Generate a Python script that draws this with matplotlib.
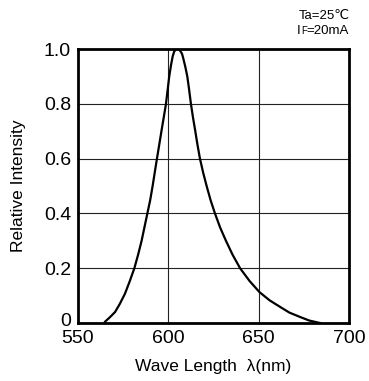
import numpy as np
import matplotlib.pyplot as plt
import matplotlib.transforms as mtransforms

plt.rcParams['font.family'] = ['Liberation Sans', 'DejaVu Sans']

# spectrum
wavelength = [565, 567.5, 570.5, 573, 576, 578.5, 581.2, 583.3, 585.2, 586.8, 588.4, 590, 591.3,
              592.5, 593.7, 595, 596.3, 597.5, 598.7, 599.6, 600.5, 601.5, 602.4, 603.2, 604,
              604.7, 605.4, 606.1, 606.9, 607.6, 608.3, 609.4, 610.5, 611.5, 612.5, 613.6, 614.8,
              616.1, 617.5, 619.3, 621.2, 623.4, 625.8, 628.7, 631.9, 635.5, 639.7, 645, 650.4,
              656, 661.8, 667, 672.9, 678, 684]
intensity = [0.005, 0.02, 0.04, 0.068, 0.107, 0.15, 0.2, 0.25, 0.30, 0.35, 0.40, 0.45, 0.50,
             0.55, 0.60, 0.652, 0.705, 0.752, 0.80, 0.85, 0.90, 0.942, 0.973, 0.99, 0.998,
             1.0, 1.0, 0.998, 0.99, 0.982, 0.965, 0.935, 0.90, 0.852, 0.80, 0.752, 0.705,
             0.652, 0.60, 0.548, 0.50, 0.448, 0.40, 0.348, 0.30, 0.25, 0.20, 0.153, 0.113,
             0.083, 0.059, 0.038, 0.022, 0.009, 0.0]

x_ticks = [550, 600, 650, 700]
y_ticks = [0, 0.2, 0.4, 0.6, 0.8, 1.0]
y_labels = ["0", "0.2", "0.4", "0.6", "0.8", "1.0"]

W, H = 369, 381
fig = plt.figure(figsize=(W / 100, H / 100), dpi=100)
ax = fig.add_axes([78 / W, 1 - 323 / H, 271 / W, 274 / H])

ax.plot(wavelength, intensity, color="black", linewidth=1.6)

ax.set_xlim(550, 700)
ax.set_ylim(0, 1.0)
ax.set_xticks(x_ticks)
ax.set_yticks(y_ticks)
ax.set_yticklabels(y_labels)
ax.tick_params(length=0, labelsize=14)
ax.tick_params(axis="x", pad=5)
ax.tick_params(axis="y", pad=5)
ax.grid(True, color="#222222", linewidth=0.8)
for s in ax.spines.values():
    s.set_linewidth(2)

# the "0" label sits a little above its grid line
lab0 = ax.get_yticklabels()[0]
lab0.set_transform(lab0.get_transform() + mtransforms.ScaledTranslation(0, 3 / 100, fig.dpi_scale_trans))

ax.set_xlabel("Wave Length  λ(nm)", fontsize=12.5, labelpad=9)
ax.set_ylabel("Relative Intensity", fontsize=12.5, labelpad=13)

# condition note, top right
fig.text(350 / W, 1 - 19 / H, "Ta=25℃", ha="right", va="baseline", fontsize=9.5)
t3 = fig.text(349 / W, 1 - 34 / H, "=20mA", ha="right", va="baseline", fontsize=9.5)
fig.canvas.draw()
bb = t3.get_window_extent()
t2 = fig.text(bb.x0 / W, 1 - 34 / H, "F", ha="right", va="baseline", fontsize=7)
fig.canvas.draw()
bb = t2.get_window_extent()
fig.text(bb.x0 / W, 1 - 34 / H, "I", ha="right", va="baseline", fontsize=9.5)

plt.savefig("out.png", dpi=100)
